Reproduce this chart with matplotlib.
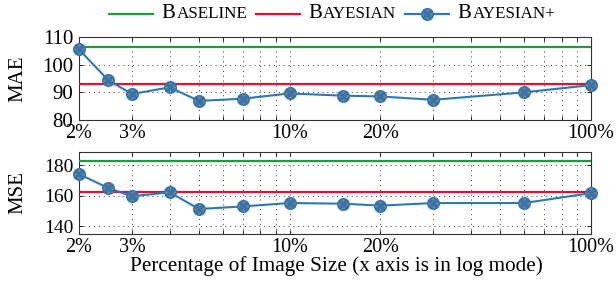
import matplotlib
matplotlib.use("Agg")
import matplotlib.pyplot as plt
import numpy as np
from matplotlib.path import Path
from matplotlib.lines import Line2D
from matplotlib.ticker import FixedLocator, NullFormatter, FixedFormatter
from matplotlib.offsetbox import HPacker, TextArea, DrawingArea, AnchoredOffsetbox

plt.rcParams['font.family'] = ['Liberation Serif', 'DejaVu Serif']

# ---- data ----
pct = [2, 2.5, 3, 4, 5, 7, 10, 15, 20, 30, 60, 100]
mae_plus = [105.5, 94.4, 89.4, 91.8, 86.9, 87.7, 89.6, 88.8, 88.5, 87.3, 90.0, 92.6]
mse_plus = [174.1, 165.0, 159.6, 162.2, 151.3, 153.0, 155.2, 154.8, 153.5, 155.2, 155.2, 161.7]
mae_baseline = 106.4
mae_bayesian = 93.0
mse_baseline = 182.4
mse_bayesian = 162.6
xticks = [2, 3, 10, 20, 100]
xticklabels = ['2%', '3%', '10%', '20%', '100%']
mae_yticks = [80, 90, 100, 110]
mse_yticks = [140, 160, 180]

GREEN = '#1f9a3c'
RED = '#d7153a'
BLUE = '#2f76b6'
ORANGE = '#c47a3a'

# custom marker: four small dots in diamond pattern
def dots_path():
    verts, codes = [], []
    s = 0.12
    for cx, cy in [(0, 0.42), (0, -0.42), (0.42, 0), (-0.42, 0)]:
        verts += [(cx - s, cy - s), (cx + s, cy - s), (cx + s, cy + s), (cx - s, cy + s), (cx - s, cy - s)]
        codes += [Path.MOVETO, Path.LINETO, Path.LINETO, Path.LINETO, Path.CLOSEPOLY]
    return Path(verts, codes)
DOTS = dots_path()

W, H = 616, 284
L, R = 79, 591
fig = plt.figure(figsize=(W / 100, H / 100), dpi=100)
ax1 = fig.add_axes([L / W, 1 - 120 / H, (R - L) / W, 83 / H])
ax2 = fig.add_axes([L / W, 1 - 234 / H, (R - L) / W, 82 / H])

minor_locs = [2, 3, 4, 5, 6, 7, 8, 9, 10, 20, 30, 40, 50, 60, 70, 80, 90, 100]
MS = 8.4

def style(ax, base, bay, plus, yticks, ylim, ylabel, yfs):
    ax.set_xscale('log')
    ax.axhline(base, color=GREEN, lw=1.6, zorder=3)
    ax.axhline(bay, color=RED, lw=1.6, zorder=3)
    ax.plot(pct, plus, color=BLUE, lw=1.5, marker='o', ms=MS, mfc=BLUE, mec=BLUE, zorder=4, clip_on=False)
    ax.plot(pct, plus, ls='none', marker=DOTS, ms=MS * 0.8, mfc=ORANGE, mec='none', zorder=5, clip_on=False)
    ax.set_xlim(2, 100)
    ax.set_ylim(*ylim)
    ax.xaxis.set_major_locator(FixedLocator(xticks))
    ax.xaxis.set_major_formatter(FixedFormatter(xticklabels))
    ax.xaxis.set_minor_locator(FixedLocator(minor_locs))
    ax.xaxis.set_minor_formatter(NullFormatter())
    ax.set_yticks(yticks)
    ax.tick_params(axis='both', which='both', direction='in', top=True, right=True,
                   length=3, width=0.6)
    ax.tick_params(axis='y', labelsize=yfs, pad=4)
    ax.tick_params(axis='x', labelsize=14.5, pad=3)
    gl = dict(ls=(0, (1, 4)), color='#333333', lw=0.7)
    ax.grid(True, which='minor', axis='x', **gl)
    ax.grid(True, which='major', axis='x', **gl)
    ax.grid(True, which='major', axis='y', **gl)
    ax.set_axisbelow(True)
    ax.set_ylabel(ylabel, fontsize=15)
    ax.yaxis.set_label_coords(-(L - 27) / (R - L), 0.5)
    for sp in ax.spines.values():
        sp.set_linewidth(0.8)
        sp.set_color('#333333')

style(ax1, mae_baseline, mae_bayesian, mae_plus, mae_yticks, (80, 110), 'MAE', 15)
style(ax2, mse_baseline, mse_bayesian, mse_plus, mse_yticks, (135, 188.5), 'MSE', 14)
ax2.set_xlabel('Percentage of Image Size (x axis is in log mode)', fontsize=15.3)
ax2.xaxis.set_label_coords(0.502, -(256 - 234) / 82)

# ---- legend with small caps ----
def handle(kind, color):
    da = DrawingArea(31.7, 10, 0, 0)
    da.add_artist(Line2D([0, 31.7], [5, 5], color=color, lw=1.6))
    if kind == 'marker':
        da.add_artist(Line2D([15.85], [5], marker='o', ms=MS, color=BLUE))
        da.add_artist(Line2D([15.85], [5], marker=DOTS, ms=MS * 0.8, mfc=ORANGE, mec='none', ls='none'))
    return da

def smallcaps(word):
    parts = [TextArea(word[0], textprops=dict(fontsize=15)),
             TextArea(word[1:].upper(), textprops=dict(fontsize=12.3))]
    return HPacker(children=parts, align='baseline', pad=0, sep=0.5)

items = []
for kind, col, name in [('line', GREEN, 'Baseline'), ('line', RED, 'Bayesian'), ('marker', BLUE, 'Bayesian+')]:
    items.append(HPacker(children=[handle(kind, col), smallcaps(name)], align='center', pad=0, sep=6.5))
row = HPacker(children=items, align='center', pad=0, sep=6)
ab = AnchoredOffsetbox(loc='center', child=row, frameon=False,
                       bbox_to_anchor=(332 / W, 1 - 14 / H), bbox_transform=fig.transFigure, pad=0)
fig.add_artist(ab)

fig.savefig('out.png', dpi=100)
